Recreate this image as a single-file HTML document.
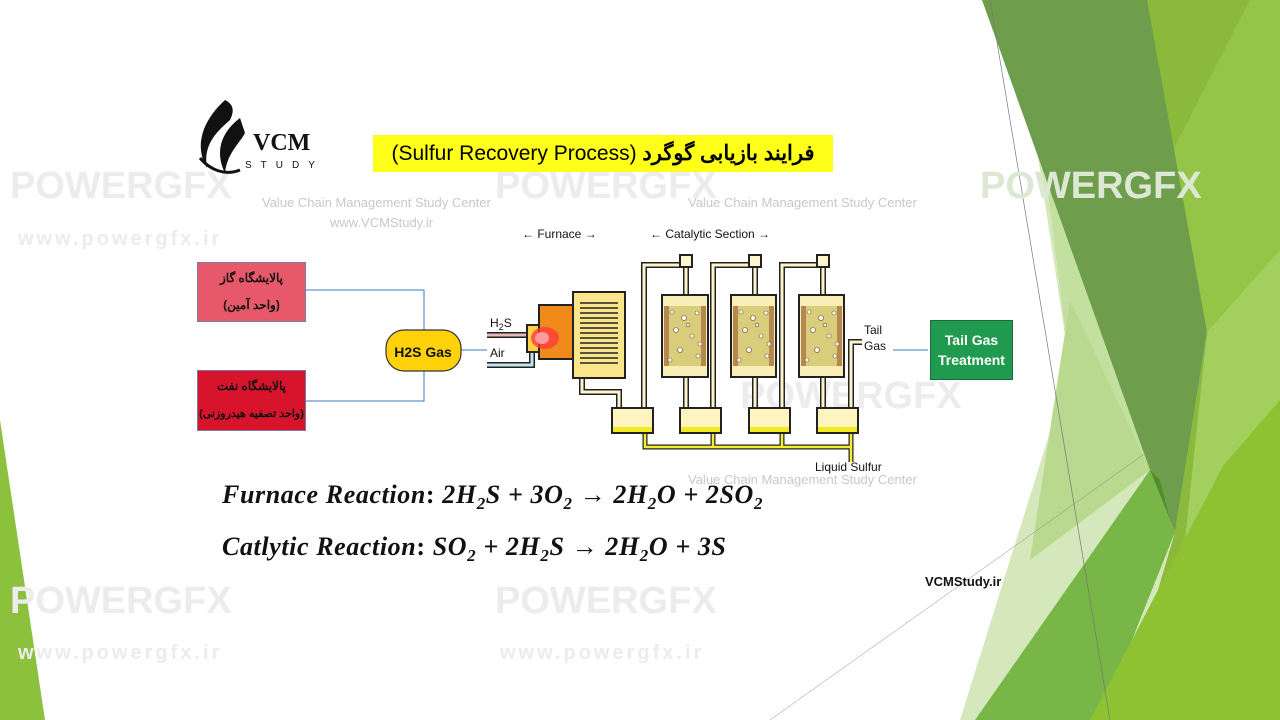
<!DOCTYPE html>
<html><head><meta charset="utf-8"><style>
body{margin:0;width:1280px;height:720px;overflow:hidden;background:#fff;position:relative;font-family:"Liberation Sans","Noto Sans CJK SC",sans-serif}
.a{position:absolute}
.wm{position:absolute;color:#ececec;font-family:"Liberation Sans",sans-serif;font-weight:bold;white-space:nowrap}
.eq{position:absolute;left:222px;font-family:"Liberation Serif",serif;font-style:italic;font-weight:bold;font-size:26px;letter-spacing:0.6px;color:#111;white-space:nowrap}
.eq sub{font-size:17px}
.box{position:absolute;border:1.5px solid #7a7aa0;color:#111;font-weight:bold;font-size:12px;text-align:center;direction:rtl;white-space:nowrap;font-family:"Liberation Sans","Noto Sans CJK SC","WenQuanYi Zen Hei",sans-serif;line-height:27px;box-sizing:border-box}
</style></head><body>
<svg class="a" style="left:0;top:0" width="1280" height="720">
<polygon points="982,0 1280,0 1280,720 960,720 1070,368 1037,150" fill="#d4e8bc"/>
<polygon points="1045,170 1150,470 1070,368" fill="#c4e0a0"/>
<polygon points="1070,300 1150,470 1030,560" fill="#b9d98f"/>
<polygon points="1140,0 1280,0 1280,720 1120,720 1175,532 1207,332" fill="#8ab93c"/>
<polygon points="1173,150 1250,0 1280,0 1280,250 1215,400" fill="#95c547"/>
<polygon points="1207,332 1280,250 1280,420 1223,466 1185,540" fill="#a3cf5e"/>
<polygon points="982,0 1147,0 1207,332 1175,532 1150,470" fill="#6e9e4c"/>
<polygon points="975,720 1150,470 1175,532 1100,720" fill="#78b648"/>
<polygon points="1150,470 1175,532 1170,520 1160,480" fill="#4f8f2a"/>
<polygon points="1090,720 1223,466 1280,400 1280,720" fill="#8ec232"/>
<polygon points="0,420 45,720 0,720" fill="#8cc13d"/>
<line x1="990" y1="0" x2="1110" y2="720" stroke="#777" stroke-width="0.7"/>
<line x1="770" y1="720" x2="1150" y2="450" stroke="#888" stroke-width="0.5"/>
</svg>
<div class="wm" style="left:10px;top:165px;font-size:38px">POWERGFX</div>
<div class="wm" style="left:495px;top:165px;font-size:38px">POWERGFX</div>
<div class="wm" style="left:980px;top:165px;font-size:38px;color:#dce8d4">POWERGFX</div>
<div class="wm" style="left:10px;top:580px;font-size:38px">POWERGFX</div>
<div class="wm" style="left:495px;top:580px;font-size:38px">POWERGFX</div>
<div class="wm" style="left:740px;top:375px;font-size:38px">POWERGFX</div>
<div class="wm" style="left:18px;top:228px;font-size:20px;letter-spacing:3px">www.powergfx.ir</div>
<div class="wm" style="left:500px;top:642px;font-size:20px;letter-spacing:3px">www.powergfx.ir</div>
<div class="wm" style="left:18px;top:642px;font-size:20px;letter-spacing:3px">www.powergfx.ir</div>
<div class="wm" style="left:262px;top:195px;font-size:13px;font-weight:normal;color:#c8c8c8">Value Chain Management Study Center</div>
<div class="wm" style="left:330px;top:215px;font-size:13px;font-weight:normal;color:#c8c8c8">www.VCMStudy.ir</div>
<div class="wm" style="left:688px;top:195px;font-size:13px;font-weight:normal;color:#c8c8c8">Value Chain Management Study Center</div>
<div class="wm" style="left:688px;top:472px;font-size:13px;font-weight:normal;color:#c8c8c8">Value Chain Management Study Center</div>

<svg class="a" style="left:195px;top:98px" width="140" height="80">
<path d="M30 2 C5 25 0 50 12 70 C8 48 20 35 35 22 C40 12 38 6 30 2Z" fill="#111"/>
<path d="M45 20 C25 35 20 55 30 75 C32 55 45 45 50 35Z" fill="#111"/>
<path d="M5 60 C15 72 30 78 45 72" stroke="#111" stroke-width="3" fill="none"/>
<text x="58" y="52" font-family="Liberation Serif" font-size="24" font-weight="bold" fill="#111">VCM</text>
<text x="50" y="70" font-family="Liberation Sans" font-size="10" letter-spacing="9" fill="#111">STUDY</text>
</svg>

<div class="a" style="left:373px;top:135px;width:460px;height:37px;background:#ffff1a;font-size:21px;font-weight:bold;line-height:37px;text-align:center;direction:rtl;font-family:'Liberation Sans','WenQuanYi Zen Hei',sans-serif">فرایند بازیابی گوگرد <span style="font-weight:normal">(Sulfur Recovery Process)</span></div>

<div class="box" style="left:197px;top:262px;width:109px;height:60px;background:#e8586b;padding-top:2px">پالایشگاه گاز<br>(واحد آمین)</div>
<div class="box" style="left:197px;top:370px;width:109px;height:61px;background:#d8142c;padding-top:2px">پالایشگاه نفت<br><span style="font-size:11px">(واحد تصفیه هیدروزنی)</span></div>

<svg class="a" style="left:0;top:0" width="1280" height="720">
<g stroke="#3a7bb8" stroke-width="1" fill="none">
<path d="M306 290 H424 V330"/><path d="M306 401 H424 V370"/><path d="M460 350 H487"/>
<path d="M893 350 H928"/>
</g>
<rect x="386" y="330" width="75" height="41" rx="18" fill="#ffd20a" stroke="#333" stroke-width="1.2"/>
<text x="423" y="357" text-anchor="middle" font-family="Liberation Sans" font-weight="bold" font-size="14" fill="#111">H2S Gas</text>

<g font-family="Liberation Sans" font-size="12" fill="#111">
<text x="522" y="238">← Furnace →</text>
<text x="650" y="238">←       Catalytic Section       →</text>
<text x="490" y="327">H<tspan font-size="9" dy="3">2</tspan><tspan dy="-3">S</tspan></text>
<text x="490" y="357">Air</text>
<text x="864" y="334">Tail</text><text x="864" y="350">Gas</text>
<text x="815" y="471">Liquid Sulfur</text>
</g>
<g fill="none" stroke-linejoin="miter">
<g stroke="#222" stroke-width="6">
<path d="M487 335 H530 M487 365 H532 V352"/>
<path d="M582 377 V392 H619 V408"/>
<path d="M644 408 V265 H686 V295"/><path d="M713 408 V265 H755 V295"/><path d="M782 408 V265 H823 V295"/>
<path d="M686 377 V408 M755 377 V408 M823 377 V408"/>
<path d="M851 408 V342 H862"/>
</g>
<g stroke="#fff5cc" stroke-width="3">
<path d="M582 377 V392 H619 V408"/>
<path d="M644 408 V265 H686 V295"/><path d="M713 408 V265 H755 V295"/><path d="M782 408 V265 H823 V295"/>
<path d="M686 377 V408 M755 377 V408 M823 377 V408"/>
<path d="M851 408 V342 H862"/>
</g>
<path d="M487 335 H530" stroke="#e6b8b8" stroke-width="3"/>
<path d="M487 365 H532 V352" stroke="#bfe6ef" stroke-width="3"/>
<path d="M645 433 V447 H851 V462 M713 433 V447 M782 433 V447 M851 433 V447" stroke="#222" stroke-width="5"/>
<path d="M645 433 V447 H851 V462 M713 433 V447 M782 433 V447 M851 433 V447" stroke="#f5ef30" stroke-width="2.5"/>
</g>
<g stroke="#222" stroke-width="2">
<rect x="680" y="255" width="12" height="12" fill="#fff5cc"/><rect x="749" y="255" width="12" height="12" fill="#fff5cc"/><rect x="817" y="255" width="12" height="12" fill="#fff5cc"/>
<rect x="527" y="325" width="14" height="27" fill="#ffd24a"/>
<rect x="539" y="305" width="37" height="54" fill="#f08a1a"/>
<rect x="573" y="292" width="52" height="86" fill="#fbe58a"/>
</g>
<ellipse cx="545" cy="338" rx="14" ry="11" fill="#ff3b3b" opacity="0.8"/>
<ellipse cx="542" cy="338" rx="7" ry="6" fill="#ff9aa0"/>
<g stroke="#222" stroke-width="1.5">
<path d="M580 303 H618 M580 308 H618 M580 313 H618 M580 318 H618 M580 323 H618 M580 328 H618 M580 333 H618 M580 338 H618 M580 343 H618 M580 348 H618 M580 353 H618 M580 358 H618 M580 363 H618"/>
</g>
<g stroke="#222" stroke-width="2">
<rect x="662" y="295" width="46" height="82" fill="#f7eeb8"/><rect x="731" y="295" width="45" height="82" fill="#f7eeb8"/><rect x="799" y="295" width="45" height="82" fill="#f7eeb8"/>
</g>
<g fill="#b58850"><rect x="664" y="306" width="42" height="60"/><rect x="733" y="306" width="41" height="60"/><rect x="801" y="306" width="41" height="60"/></g>
<g fill="#d9cc7a"><rect x="669" y="306" width="32" height="60"/><rect x="738" y="306" width="31" height="60"/><rect x="806" y="306" width="31" height="60"/></g>
<g fill="#fff" stroke="#6b5020" stroke-width="0.6">
<circle cx="672" cy="312" r="2"/><circle cx="684" cy="318" r="2.5"/><circle cx="697" cy="313" r="2"/><circle cx="676" cy="330" r="2.5"/><circle cx="692" cy="336" r="2"/><circle cx="680" cy="350" r="2.5"/><circle cx="698" cy="356" r="2"/><circle cx="670" cy="360" r="2"/><circle cx="688" cy="325" r="1.7"/><circle cx="700" cy="344" r="2"/>
<circle cx="741" cy="312" r="2"/><circle cx="753" cy="318" r="2.5"/><circle cx="766" cy="313" r="2"/><circle cx="745" cy="330" r="2.5"/><circle cx="761" cy="336" r="2"/><circle cx="749" cy="350" r="2.5"/><circle cx="767" cy="356" r="2"/><circle cx="739" cy="360" r="2"/><circle cx="757" cy="325" r="1.7"/><circle cx="769" cy="344" r="2"/>
<circle cx="809" cy="312" r="2"/><circle cx="821" cy="318" r="2.5"/><circle cx="834" cy="313" r="2"/><circle cx="813" cy="330" r="2.5"/><circle cx="829" cy="336" r="2"/><circle cx="817" cy="350" r="2.5"/><circle cx="835" cy="356" r="2"/><circle cx="807" cy="360" r="2"/><circle cx="825" cy="325" r="1.7"/><circle cx="837" cy="344" r="2"/>
</g>
<g stroke="#222" stroke-width="2" fill="#fff3bf">
<rect x="612" y="408" width="41" height="25"/><rect x="680" y="408" width="41" height="25"/><rect x="749" y="408" width="41" height="25"/><rect x="817" y="408" width="41" height="25"/>
</g>
<g fill="#f2ea20"><rect x="613" y="427" width="39" height="5"/><rect x="681" y="427" width="39" height="5"/><rect x="750" y="427" width="39" height="5"/><rect x="818" y="427" width="39" height="5"/></g>
</svg>

<div class="a" style="left:930px;top:320px;width:83px;height:60px;background:#1f9a4f;border:1px solid #1a6a3a;box-sizing:border-box;color:#fff;font-weight:bold;font-size:14px;text-align:center;line-height:20px;padding-top:9px">Tail Gas<br>Treatment</div>

<div class="eq" style="top:480px">Furnace Reaction<span style="font-style:normal">:</span> 2H<sub>2</sub>S + 3O<sub>2</sub> → 2H<sub>2</sub>O + 2SO<sub>2</sub></div>
<div class="eq" style="top:532px">Catlytic Reaction<span style="font-style:normal">:</span> SO<sub>2</sub> + 2H<sub>2</sub>S → 2H<sub>2</sub>O + 3S</div>
<div class="a" style="left:925px;top:574px;font-weight:bold;font-size:13px;color:#111">VCMStudy.ir</div>
</body></html>
